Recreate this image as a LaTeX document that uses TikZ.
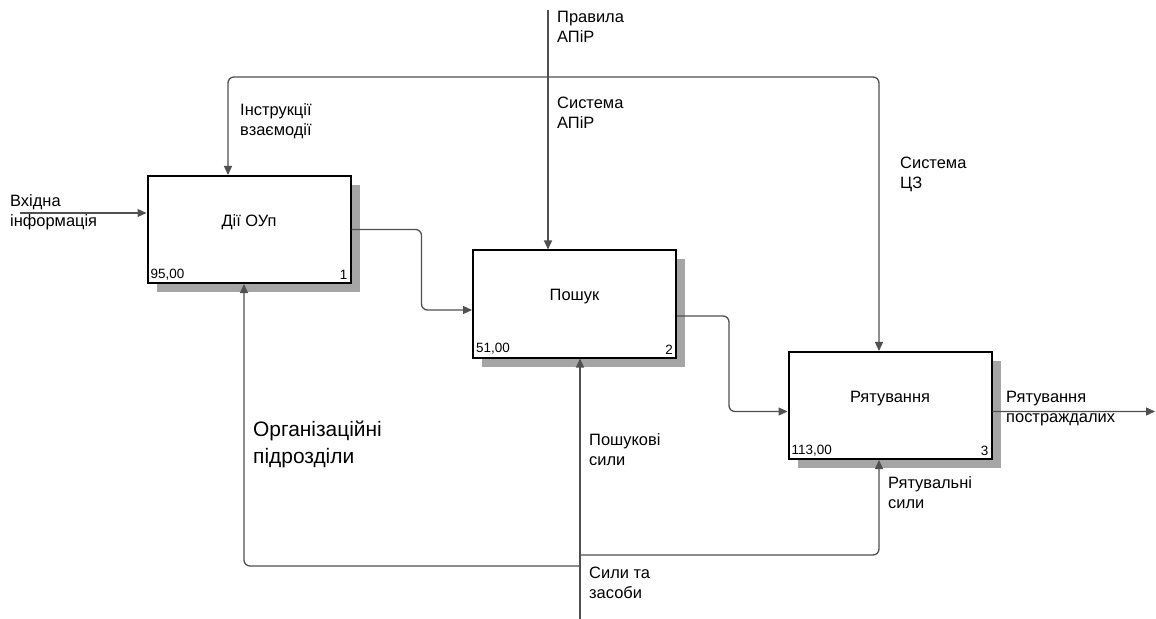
\documentclass[tikz,border=0pt]{standalone}
\usepackage{fontspec}
\setmainfont{Liberation Sans}
\usetikzlibrary{arrows.meta,shadows}
\definecolor{LineGray}{RGB}{80,80,80}
\definecolor{ShadowGray}{RGB}{165,165,165}

\begin{document}
\begin{tikzpicture}[x=1bp, y=-1bp, >={Triangle[length=9bp,width=8bp]},
    every node/.style={font=\fontsize{16.5}{20}\selectfont}]
  \tikzstyle{box}=[draw=black, line width=2bp, fill=white,
                   minimum width=203bp, minimum height=107bp, text depth=18bp,
                   drop shadow={shadow xshift=9bp, shadow yshift=-9bp,
                                fill=ShadowGray, opacity=1}]
  \tikzstyle{num}=[font=\fontsize{13.5}{15}\selectfont, inner sep=4bp]
  \tikzstyle{lbl}=[anchor=west, align=left, inner sep=0pt]
  \tikzstyle{flow}=[->, draw=LineGray, line width=1.3bp, rounded corners=6bp]
  \useasboundingbox (0,0) rectangle (1156,619);

  % functions
  \node[box, label={[num, anchor=south west]south west:95,00},
             label={[num, anchor=south east]south east:1}]
    (act) at (249,229.5) {Дії ОУп};
  \node[box, label={[num, anchor=south west]south west:51,00},
             label={[num, anchor=south east]south east:2}]
    (search) at (574.5,304) {Пошук};
  \node[box, label={[num, anchor=south west]south west:113,00},
             label={[num, anchor=south east]south east:3}]
    (rescue) at (890,405.5) {Рятування};

  % controls
  \coordinate (ctl)  at (548,10);
  \coordinate (jtop) at (548,77);
  \draw[flow] (ctl) -- (ctl |- search.north);
  \draw[flow] (jtop) -| ([xshift=-21bp]act.north);
  \draw[flow] (jtop) -| ([xshift=-11bp]rescue.north);

  % inputs and outputs
  \coordinate (inp)  at (20,213);
  \coordinate (outp) at (1155,411.5);
  \draw[flow] (inp) -- (inp -| act.west);
  \draw[flow] (act.east) -- ++(70,0) |- ([yshift=-6bp]search.west);
  \draw[flow] ([yshift=-12bp]search.east) -- ++(52,0) |- ([yshift=-6bp]rescue.west);
  \draw[flow] ([yshift=-6bp]rescue.east) -- (outp);

  % mechanisms
  \coordinate (mech) at (580,619);
  \coordinate (jlft) at (580,566);
  \coordinate (jrgt) at (580,555);
  \draw[flow] (mech) -- (mech |- search.south);
  \draw[flow] (jlft) -| ([xshift=-5bp]act.south);
  \draw[flow] (jrgt) -| ([xshift=-11bp]rescue.south);

  % arrow labels
  \node[lbl] (rules)  at (557,27)   {Правила\\АПіР};
  \node[lbl] (sysapr) at (557,113)  {Система\\АПіР};
  \node[lbl] (instr)  at (240,121)  {Інструкції\\взаємодії};
  \node[lbl] (syscz)  at (900,174)  {Система\\ЦЗ};
  \node[lbl] (inl)    at (10,212)   {Вхідна\\інформація};
  \node[lbl] (outl)   at (1006,409) {Рятування\\постраждалих};
  \node[lbl] (rescf)  at (888,493)  {Рятувальні\\сили};
  \node[lbl] (srchf)  at (589,450)  {Пошукові\\сили};
  \node[lbl] (forces) at (589,583)  {Сили та\\засоби};
  \node[lbl, font=\fontsize{21}{27}\selectfont] (org) at (253,444)
    {Організаційні\\підрозділи};
\end{tikzpicture}
\end{document}
